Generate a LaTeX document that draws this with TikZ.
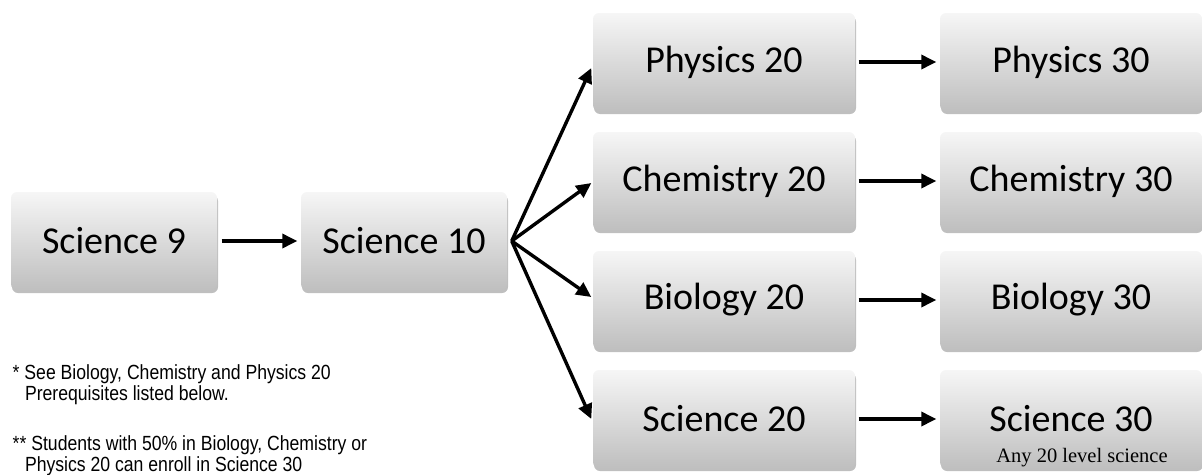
\documentclass[tikz,border=0pt]{standalone}
\usepackage{fontspec}
\setmainfont{Carlito}
\newfontfamily\notefont[FakeStretch=0.86]{Liberation Sans}
\newfontfamily\subfont{Liberation Serif}
\usepackage{tikz}
\usetikzlibrary{arrows.meta,positioning,shadows}
\definecolor{boxtop}{HTML}{F6F6F6}
\definecolor{boxmid}{HTML}{E6E6E6}
\definecolor{boxbot}{HTML}{BFBFBF}

\begin{document}
\begin{tikzpicture}[x=1pt, y=-1pt, >={Triangle[length=15pt, width=14pt]}, line width=3.4pt,
  course/.style={rounded corners=6pt, top color=boxtop, middle color=boxmid, bottom color=boxbot,
    drop shadow={shadow xshift=1pt, shadow yshift=-3pt, fill=black, opacity=0.25},
    minimum height=98pt, inner sep=0pt, font=\fontsize{38}{44}\selectfont},
  small/.style={course, minimum width=206pt},
  wide/.style={course, minimum width=262pt},
  note/.style={font=\notefont\fontsize{20.5}{20.5}\selectfont, align=left, inner sep=0pt}]
\useasboundingbox (0,0) rectangle (1202,474);
\node[small] (s9)  at (114,241)  {Science 9};
\node[small] (s10) at (404,241)  {Science 10};
\node[wide]  (p20) at (724,62)   {Physics 20};
\node[wide]  (c20) at (724,181)  {Chemistry 20};
\node[wide]  (b20) at (724,300)  {Biology 20};
\node[wide]  (s20) at (724,419)  {Science 20};
\node[wide]  (p30) at (1071,62)  {Physics 30};
\node[wide]  (c30) at (1071,181) {Chemistry 30};
\node[wide]  (b30) at (1071,300) {Biology 30};
\node[wide]  (s30) at (1071,419) {Science 30};
\node[font=\subfont\fontsize{20.5}{22}\selectfont, inner sep=0pt] (s30sub) at (1082,458) {Any 20 level science};
\node[note, anchor=north west] (n1) at (11,363) {* See Biology, Chemistry and Physics 20\\\hspace*{0.6em}Prerequisites listed below.};
\node[note, anchor=north west] (n2) at (11,434) {** Students with 50\% in Biology, Chemistry or\\\hspace*{0.6em}Physics 20 can enroll in Science 30};
\draw[->, shorten <=3pt, shorten >=2pt] (s9) -- (s10);
\draw[->] ([xshift=3pt]s10.east) -- ([yshift=-6pt]p20.west);
\draw[->] ([xshift=3pt]s10.east) -- ([yshift=-2pt]c20.west);
\draw[->] ([xshift=3pt]s10.east) -- ([yshift=3pt]b20.west);
\draw[->] ([xshift=3pt]s10.east) -- (s20.west);
\draw[->, shorten <=2pt, shorten >=2pt] (p20) -- (p30);
\draw[->, shorten <=2pt, shorten >=2pt] (c20) -- (c30);
\draw[->, shorten <=2pt, shorten >=2pt] (b20) -- (b30);
\draw[->, shorten <=2pt, shorten >=2pt] (s20) -- (s30);
\end{tikzpicture}
\end{document}
